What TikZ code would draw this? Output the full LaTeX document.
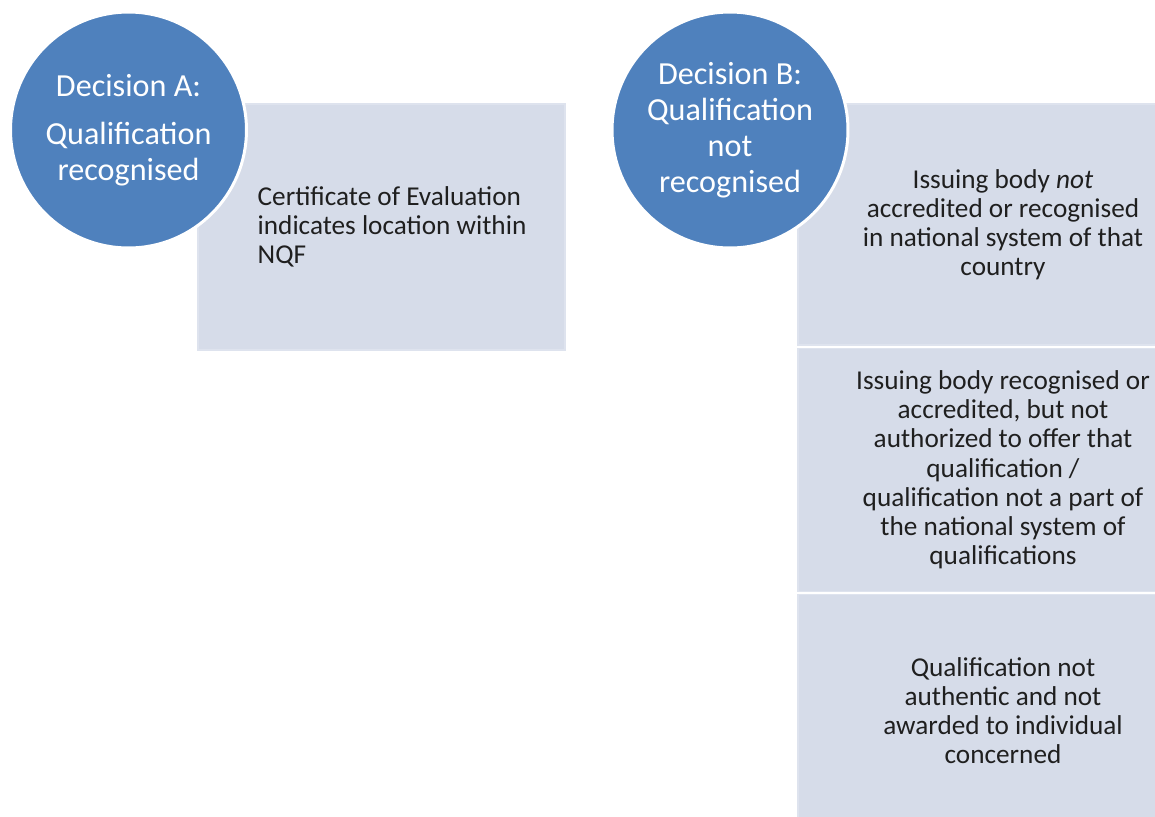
\documentclass[tikz,border=0pt]{standalone}
\usepackage{fontspec}
\setmainfont{Carlito}
\usetikzlibrary{positioning}

\definecolor{decblue}{RGB}{79,129,189}
\definecolor{resfill}{RGB}{214,220,233}
\definecolor{resline}{RGB}{222,227,238}

\tikzset{
  decision/.style={circle, fill=decblue, draw=white, line width=1.7pt, text=white,
    minimum size=4.72cm, inner sep=0pt, align=center,
    font=\fontsize{18.3}{20.4}\selectfont},
  result/.style={rectangle, fill=resfill, draw=resline, line width=0.8pt,
    inner sep=0pt, align=center, minimum width=8.2cm, text={black!88},
    font=\fontsize{15.5}{16.6}\selectfont},
  restext/.style={inner sep=0pt, align=left, text={black!88},
    font=\fontsize{15.5}{16.6}\selectfont}
}

\begin{document}
\begin{tikzpicture}[x=0.02cm, y=-0.02cm, node distance=0.04cm]
\clip (0,0) rectangle (1155,816);
\fill[white] (0,0) rectangle (1155,816);

\node[result, minimum width=7.34cm, minimum height=4.92cm] (boxA) at (381.5,227) {};
\node[restext, anchor=west] (txtA) at ([xshift=1.2cm]boxA.west)
  {Certificate of Evaluation\\ indicates location within\\ NQF};

\node[result, minimum height=4.82cm] (boxB1) at (1003,224.5)
  {Issuing body \textit{not}\\ accredited or recognised\\ in national system of that\\ country};
\node[result, minimum height=4.86cm, below=of boxB1] (boxB2)
  {Issuing body recognised or\\ accredited, but not\\ authorized to offer that\\ qualification /\\ qualification not a part of\\ the national system of\\ qualifications};
\node[result, minimum height=4.64cm, below=of boxB2] (boxB3)
  {Qualification not\\ authentic and not\\ awarded to individual\\ concerned};

\node[decision] (decA) at (128.5,130) {Decision A:\\[7pt] Qualification\\ recognised};
\node[decision] (decB) at (730,130) {Decision B:\\ Qualification\\ not\\ recognised};
\end{tikzpicture}
\end{document}
